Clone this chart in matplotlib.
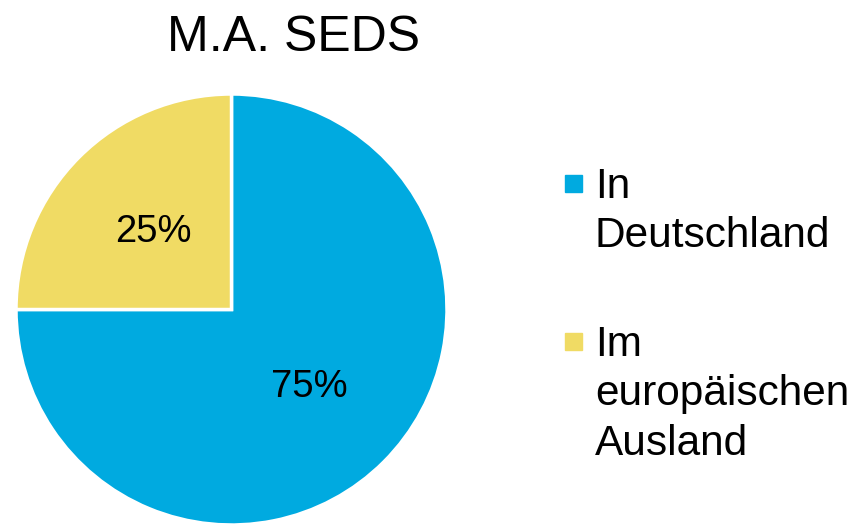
import matplotlib
matplotlib.use("Agg")
import matplotlib.pyplot as plt
from matplotlib.patches import Rectangle

plt.rcParams["font.family"] = ["Liberation Sans", "DejaVu Sans"]

# data
title = "M.A. SEDS"
labels = ["In\nDeutschland", "Im\neuropäischen\nAusland"]
shares = [75, 25]
colors = ["#00AAE0", "#F0DB64"]

W, H = 856, 525
fig = plt.figure(figsize=(W / 100, H / 100), dpi=100)

# pie: centre ~ (231.5, 309.5) px, radius ~215.5 px
r = 215.5
ax = fig.add_axes([(231.5 - r) / W, (H - 309.5 - r) / H, 2 * r / W, 2 * r / H])
wedges, _, autotexts = ax.pie(
    shares, colors=colors, startangle=90, counterclock=False,
    autopct="%1.0f%%", pctdistance=0.51,
    wedgeprops=dict(edgecolor="white", linewidth=2.5),
    textprops=dict(fontsize=27.5, color="black"),
)
ax.set_xlim(-1, 1)
ax.set_ylim(-1, 1)
ax.set_aspect("equal")
ax.axis("off")

fig.text(293.5 / W, 1 - 51 / H, title, ha="center", va="baseline", fontsize=36)

# legend, drawn by hand so the marker sits on the first line
tops = [167, 325]
for lab, col, top in zip(labels, colors, tops):
    fig.add_artist(Rectangle((565 / W, 1 - (top + 25) / H), 17 / W, 17 / H,
                             transform=fig.transFigure, color=col))
    fig.text(595 / W, 1 - top / H, lab, ha="left", va="top",
             fontsize=30.5, linespacing=1.3)

fig.savefig("out.png", dpi=100)
